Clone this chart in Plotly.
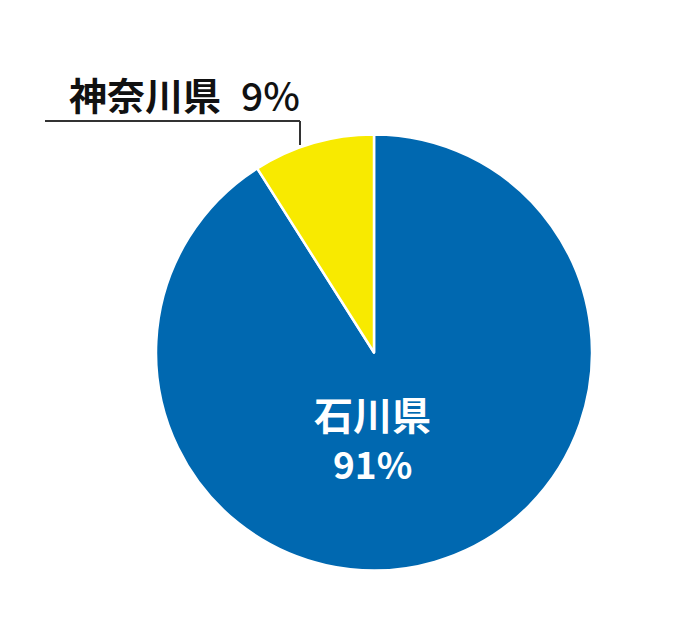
import plotly.graph_objects as go

# ── Data ──────────────────────────────────────────────────────────────────────
labels = ["石川県", "神奈川県"]
values = [91, 9]
colors = ["#0068b0", "#f8ea00"]

# page body keeps its default 8px margin, so the figure is drawn inside it
OFF = 8
W, H = 685 - 2 * OFF, 620 - 2 * OFF


def px_x(x):
    return (x - OFF) / W


def px_y(y):
    return 1 - (y - OFF) / H


FONT = "Noto Sans CJK JP"

fig = go.Figure(go.Pie(
    labels=labels, values=values,
    marker=dict(colors=colors, line=dict(color="white", width=2.5)),
    sort=False, direction="clockwise", rotation=0,
    textinfo="none", hoverinfo="label+percent",
    domain=dict(x=[px_x(156), px_x(592)], y=[px_y(570.5), px_y(134.5)]),
    showlegend=False,
))

# inside label for the big slice
fig.add_annotation(x=px_x(373), y=px_y(413), xref="paper", yref="paper",
                   xanchor="center", yanchor="middle",
                   text=f"<b>{labels[0]}</b>", showarrow=False,
                   font=dict(family=FONT, size=39, color="white"))
fig.add_annotation(x=px_x(372), y=px_y(463), xref="paper", yref="paper",
                   xanchor="center", yanchor="middle",
                   text=f"<b>{values[0]}%</b>", showarrow=False,
                   font=dict(family=FONT, size=37, color="white"))

# outside label for the small slice
fig.add_annotation(x=px_x(67), y=px_y(94), xref="paper", yref="paper",
                   xanchor="left", yanchor="middle",
                   text=f"<b>{labels[1]}</b>", showarrow=False,
                   font=dict(family=FONT, size=38, color="#111111"))
fig.add_annotation(x=px_x(302), y=px_y(94), xref="paper", yref="paper",
                   xanchor="right", yanchor="middle",
                   text=f"{values[1]}%", showarrow=False,
                   font=dict(family=FONT, size=39, color="#111111", weight=500))

# leader line
line_style = dict(color="#333333", width=2)
fig.add_shape(type="line", xref="paper", yref="paper",
              x0=px_x(45), y0=px_y(121), x1=px_x(300), y1=px_y(121), line=line_style)
fig.add_shape(type="line", xref="paper", yref="paper",
              x0=px_x(300), y0=px_y(121), x1=px_x(300), y1=px_y(145), line=line_style)

fig.update_layout(
    width=W, height=H,
    margin=dict(l=0, r=0, t=0, b=0),
    paper_bgcolor="white", plot_bgcolor="white",
)

fig.write_html("out.html")
